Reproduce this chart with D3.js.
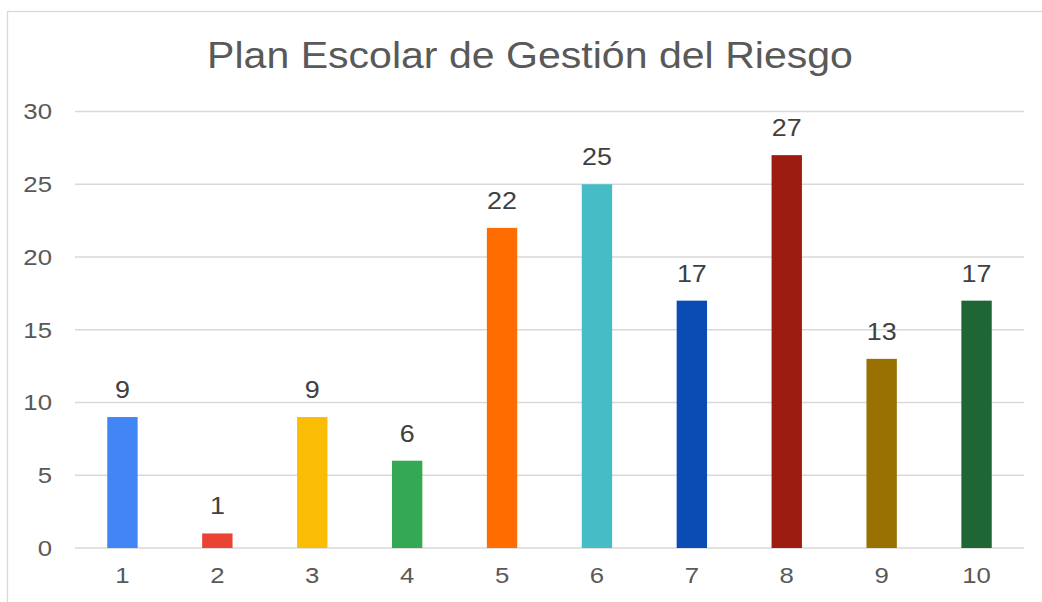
<!doctype html>
<html>
    <head>
        <meta charset="UTF-8">
        <title>Plan Escolar de Gestión del Riesgo</title>
        <script src="https://cdn.jsdelivr.net/npm/d3@7"></script>
        <style>
            body { margin: 0; background: #ffffff; }
            text { font-family: "Liberation Sans", Arial, sans-serif; }
        </style>
    </head>
    <body>
        <div id="chart"></div>
        <script>
            const categories = ["1", "2", "3", "4", "5", "6", "7", "8", "9", "10"];
            const values = [9, 1, 9, 6, 22, 25, 17, 27, 13, 17];
            const colors = ["#4285f4", "#ea4335", "#fbbc04", "#34a853", "#ff6d01",
                            "#46bdc6", "#0b4cb4", "#9c1c12", "#997100", "#1e6633"];
            const yTicks = [0, 5, 10, 15, 20, 25, 30];
            const title = "Plan Escolar de Gestión del Riesgo";

            const width = 1042, height = 602;
            const margin = { left: 75, right: 18, top: 111.5, bottom: 54 };
            const stretch = "scale(1.12,1)"; // text in the original is a bit wide

            const svg = d3.select("#chart")
                .append("svg")
                .attr("width", width)
                .attr("height", height);

            // chart frame (runs off the right and bottom edges)
            svg.append("rect")
                .attr("x", 7.5).attr("y", 11.5)
                .attr("width", 1050).attr("height", 620)
                .attr("fill", "#fff")
                .attr("stroke", "#d9d9d9")
                .attr("stroke-width", 1.3);

            const x = d3.scaleBand()
                .domain(categories)
                .range([margin.left, width - margin.right])
                .paddingInner(0.68)
                .paddingOuter(0.34);

            const y = d3.scaleLinear()
                .domain([0, 30])
                .range([height - margin.bottom, margin.top]);

            // gridlines
            svg.append("g")
                .selectAll("line")
                .data(yTicks)
                .join("line")
                .attr("x1", margin.left)
                .attr("x2", width - margin.right)
                .attr("y1", d => y(d))
                .attr("y2", d => y(d))
                .attr("stroke", "#d9d9d9")
                .attr("stroke-width", 1.3);

            // y axis labels
            const yAxis = svg.append("g")
                .attr("transform", `translate(${margin.left - 23},0)`)
                .call(d3.axisLeft(y).tickValues(yTicks).tickSize(0).tickPadding(0));
            yAxis.select(".domain").remove();
            yAxis.selectAll("text")
                .attr("fill", "#595959")
                .attr("transform", stretch)
                .style("font-size", "23px");

            // x axis labels
            const xAxis = svg.append("g")
                .attr("transform", `translate(0,${height - margin.bottom + 19})`)
                .call(d3.axisBottom(x).tickSize(0).tickPadding(0));
            xAxis.select(".domain").remove();
            xAxis.selectAll("text")
                .attr("fill", "#595959")
                .attr("transform", stretch)
                .style("font-size", "23px");

            // bars
            svg.append("g")
                .selectAll("rect")
                .data(values)
                .join("rect")
                .attr("x", (d, i) => x(categories[i]))
                .attr("width", x.bandwidth())
                .attr("y", d => y(d))
                .attr("height", d => y(0) - y(d))
                .attr("fill", (d, i) => colors[i]);

            // value labels
            svg.append("g")
                .selectAll("text")
                .data(values)
                .join("text")
                .attr("transform", (d, i) =>
                    `translate(${x(categories[i]) + x.bandwidth() / 2},${y(d) - 19}) ${stretch}`)
                .attr("text-anchor", "middle")
                .attr("fill", "#404040")
                .style("font-size", "24px")
                .text(d => d);

            // title
            svg.append("text")
                .attr("transform", "translate(530,68) scale(1.11,1)")
                .attr("text-anchor", "middle")
                .attr("fill", "#595959")
                .style("font-size", "37px")
                .text(title);
        </script>
    </body>
</html>
